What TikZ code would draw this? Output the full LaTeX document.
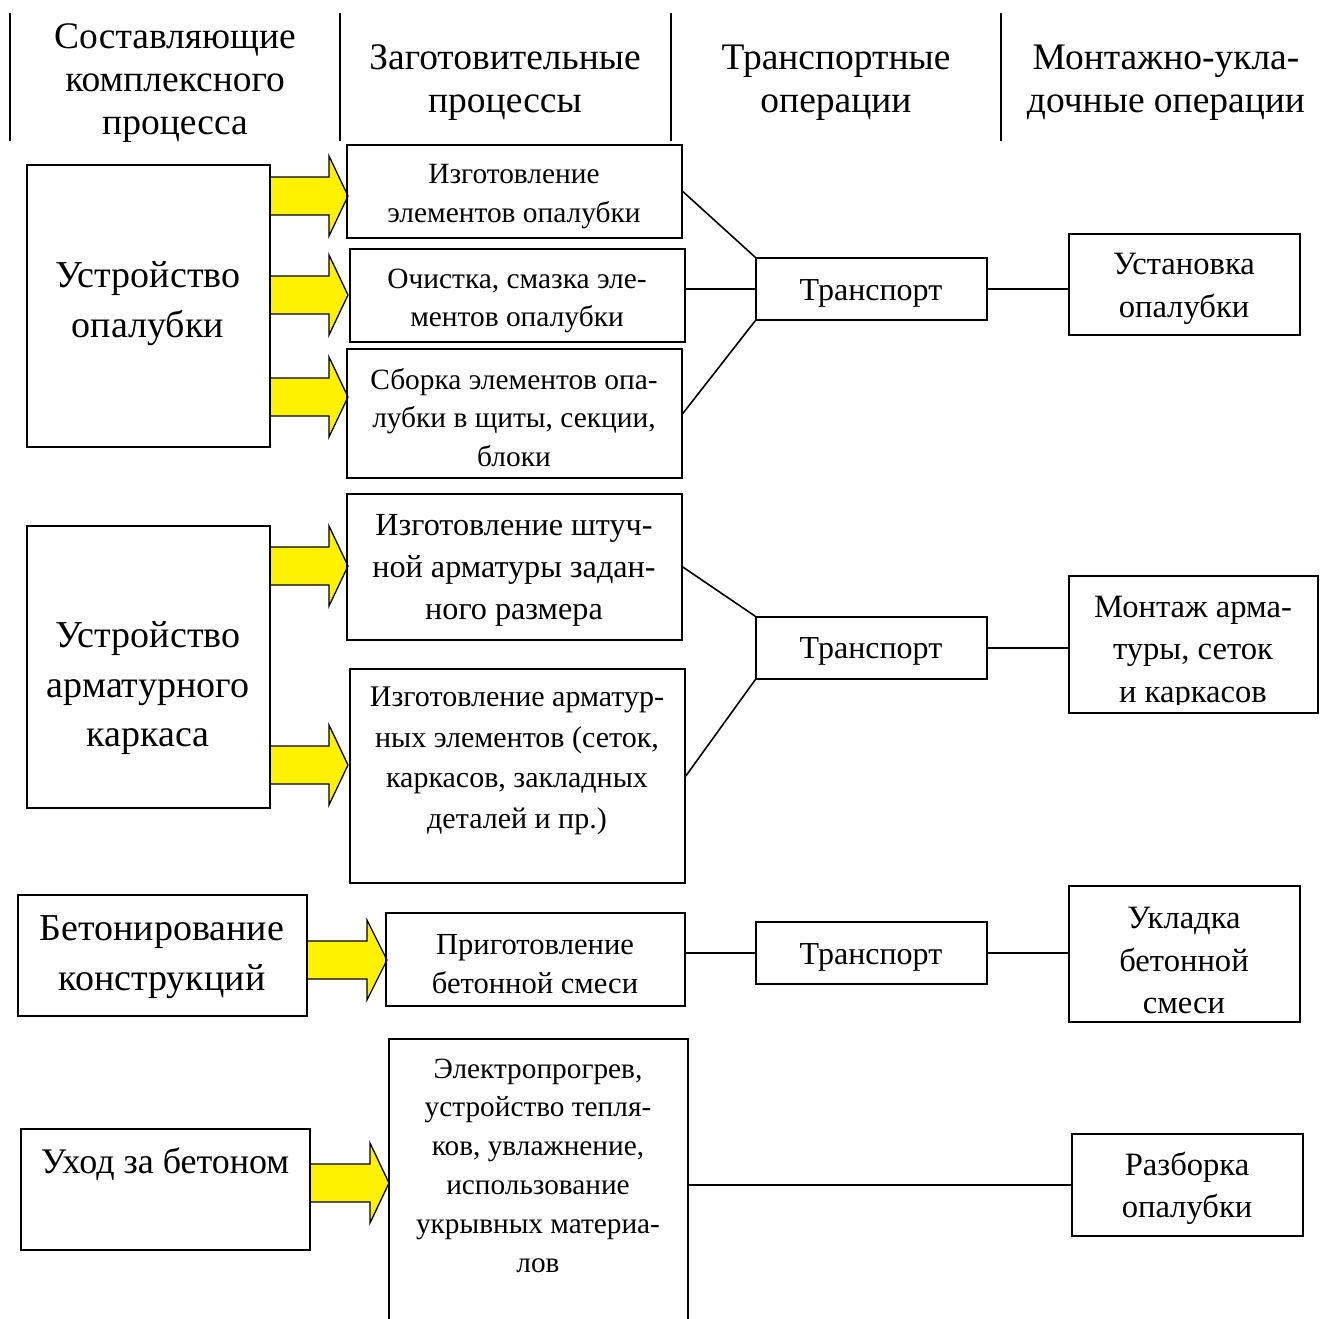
\documentclass[tikz,border=0pt]{standalone}
\usepackage{fontspec}
\setmainfont{Liberation Serif}
\newcommand\myfs[2]{\fontsize{#1}{#2}\selectfont}
\begin{document}
\begin{tikzpicture}[x=1pt,y=-1pt,
  box/.style={draw, line width=1.6pt, inner sep=0pt},
  txt/.style={align=center, inner sep=0pt},
  hdr/.style={txt, font=\myfs{37.5}{43.3}},
  big/.style={txt, font=\myfs{38}{49.5}},
  mid/.style={txt, font=\myfs{29.4}{38.5}},
  midb/.style={txt, font=\myfs{32.2}{42}},
  rgt/.style={txt, font=\myfs{32.6}{42.5}},
  link/.style={line width=1.6pt},
  sep/.style={line width=2pt},
  yarrow/.style={fill=yellow, draw=black, line width=1.3pt, line join=miter}]
\clip (0,0) rectangle (1322,1319);
\fill[white] (0,0) rectangle (1322,1319);
% header separators
\coordinate (s1a) at (10,13);  \coordinate (s1b) at (10,141);
\coordinate (s2a) at (340,13); \coordinate (s2b) at (340,141);
\coordinate (s3a) at (671,13); \coordinate (s3b) at (671,141);
\coordinate (s4a) at (1001,13);\coordinate (s4b) at (1001,141);
\draw[sep] (s1a) -- (s1b);
\draw[sep] (s2a) -- (s2b);
\draw[sep] (s3a) -- (s3b);
\draw[sep] (s4a) -- (s4b);
\node[hdr] (h1) at (175,83) {Составляющие\\комплексного\\процесса};
\node[hdr] (h2) at (505,82.5) {Заготовительные\\процессы};
\node[hdr] (h3) at (836,82.5) {Транспортные\\операции};
\node[hdr] (h4) at (1166,82.5) {Монтажно-укла-\\дочные операции};
% yellow arrows: shaft from x0, head base hb, tip tx, centre y c
\newcommand\yarr[4]{\fill[yarrow] (#1,#4-19) -- (#2,#4-19) -- (#2,#4-40) -- (#3,#4) -- (#2,#4+40) -- (#2,#4+19) -- (#1,#4+19) -- cycle;}
\yarr{270}{329}{348}{196}
\yarr{270}{329}{348}{295}
\yarr{270}{329}{348}{397}
\yarr{270}{329}{348}{566}
\yarr{270}{329}{348}{765}
\yarr{307}{367}{387}{960}
\yarr{310}{370}{389}{1183}
% left boxes
\node[box, minimum width=243pt, minimum height=282pt] (l1) at (148.5,306) {};
\node[box, minimum width=243pt, minimum height=282pt] (l2) at (148.5,667) {};
\node[box, minimum width=289pt, minimum height=121pt] (l3) at (162.5,955.5) {};
\node[box, minimum width=289pt, minimum height=121pt] (l4) at (165.5,1189.5) {};
\node[big] (l1t) at (148,303.5) {Устройство\\опалубки};
\node[big] (l2t) at (148,688.5) {Устройство\\арматурного\\каркаса};
\node[big] (l3t) at (162,957) {Бетонирование\\конструкций};
\node[txt, font=\myfs{36}{43}] (l4t) at (165,1164) {Уход за бетоном};
% middle boxes
\node[box, minimum width=335pt, minimum height=93pt] (m1) at (514.5,191.5) {};
\node[box, minimum width=335pt, minimum height=93pt] (m2) at (517.5,295.5) {};
\node[box, minimum width=335pt, minimum height=129pt] (m3) at (514.5,413.5) {};
\node[box, minimum width=335pt, minimum height=146pt] (m4) at (514.5,567) {};
\node[box, minimum width=335pt, minimum height=214pt] (m5) at (517.5,776) {};
\node[box, minimum width=299pt, minimum height=93pt] (m6) at (535.5,959.5) {};
\node[box, minimum width=299pt, minimum height=301pt] (m7) at (538.5,1189.5) {};
\node[mid] (m1t) at (514,196.5) {Изготовление\\элементов опалубки};
\node[mid] (m2t) at (517,301) {Очистка, смазка эле-\\ментов опалубки};
\node[mid] (m3t) at (514,417.5) {Сборка элементов опа-\\лубки в щиты, секции,\\блоки};
\node[midb] (m4t) at (514,570) {Изготовление штуч-\\ной арматуры задан-\\ного размера};
\node[txt, font=\myfs{30}{40.7}] (m5t) at (517,761) {Изготовление арматур-\\ных элементов (сеток,\\каркасов, закладных\\деталей и пр.)};
\node[txt, font=\myfs{30.6}{39}] (m6t) at (535,964.5) {Приготовление\\бетонной смеси};
\node[txt, font=\myfs{29.3}{38.8}] (m7t) at (538,1165.5) {Электропрогрев,\\устройство тепля-\\ков, увлажнение,\\использование\\укрывных материа-\\лов};
% transport boxes
\node[box, minimum width=231pt, minimum height=62pt] (t1) at (871.5,289) {};
\node[box, minimum width=231pt, minimum height=62pt] (t2) at (871.5,648) {};
\node[box, minimum width=231pt, minimum height=62pt] (t3) at (871.5,953) {};
\node[txt, font=\myfs{32}{40}] (t1t) at (871,293) {Транспорт};
\node[txt, font=\myfs{32}{40}] (t2t) at (871,651) {Транспорт};
\node[txt, font=\myfs{32}{40}] (t3t) at (871,957) {Транспорт};
% right boxes
\node[box, minimum width=231pt, minimum height=101pt] (r1) at (1184.5,284.5) {};
\node[box, minimum width=249pt, minimum height=137pt] (r2) at (1193.5,644.5) {};
\node[box, minimum width=231pt, minimum height=136pt] (r3) at (1184.5,954) {};
\node[box, minimum width=231pt, minimum height=102pt] (r4) at (1187.5,1185) {};
\node[rgt] (r1t) at (1184,289) {Установка\\опалубки};
\begin{scope}
\clip (1069,576) rectangle (1318,704);
\node[rgt] (r2t) at (1193,652.5) {Монтаж арма-\\туры, сеток\\и каркасов};
\end{scope}
\node[rgt] (r3t) at (1184,960.5) {Укладка\\бетонной\\смеси};
\node[rgt] (r4t) at (1187,1188.5) {Разборка\\опалубки};
% connectors
\draw[link] (m1.east) -- (t1.north west);
\draw[link] (m2.east |- t1.west) -- (t1.west);
\draw[link] (m3.east) -- (t1.south west);
\draw[link] (t1.east) -- (t1.east -| r1.west);
\draw[link] (m4.east) -- (t2.north west);
\draw[link] (m5.east) -- (t2.south west);
\draw[link] (t2.east) -- (t2.east -| r2.west);
\draw[link] (m6.east |- t3.west) -- (t3.west);
\draw[link] (t3.east) -- (t3.east -| r3.west);
\draw[link] (m7.east |- r4.west) -- (r4.west);
\end{tikzpicture}
\end{document}
